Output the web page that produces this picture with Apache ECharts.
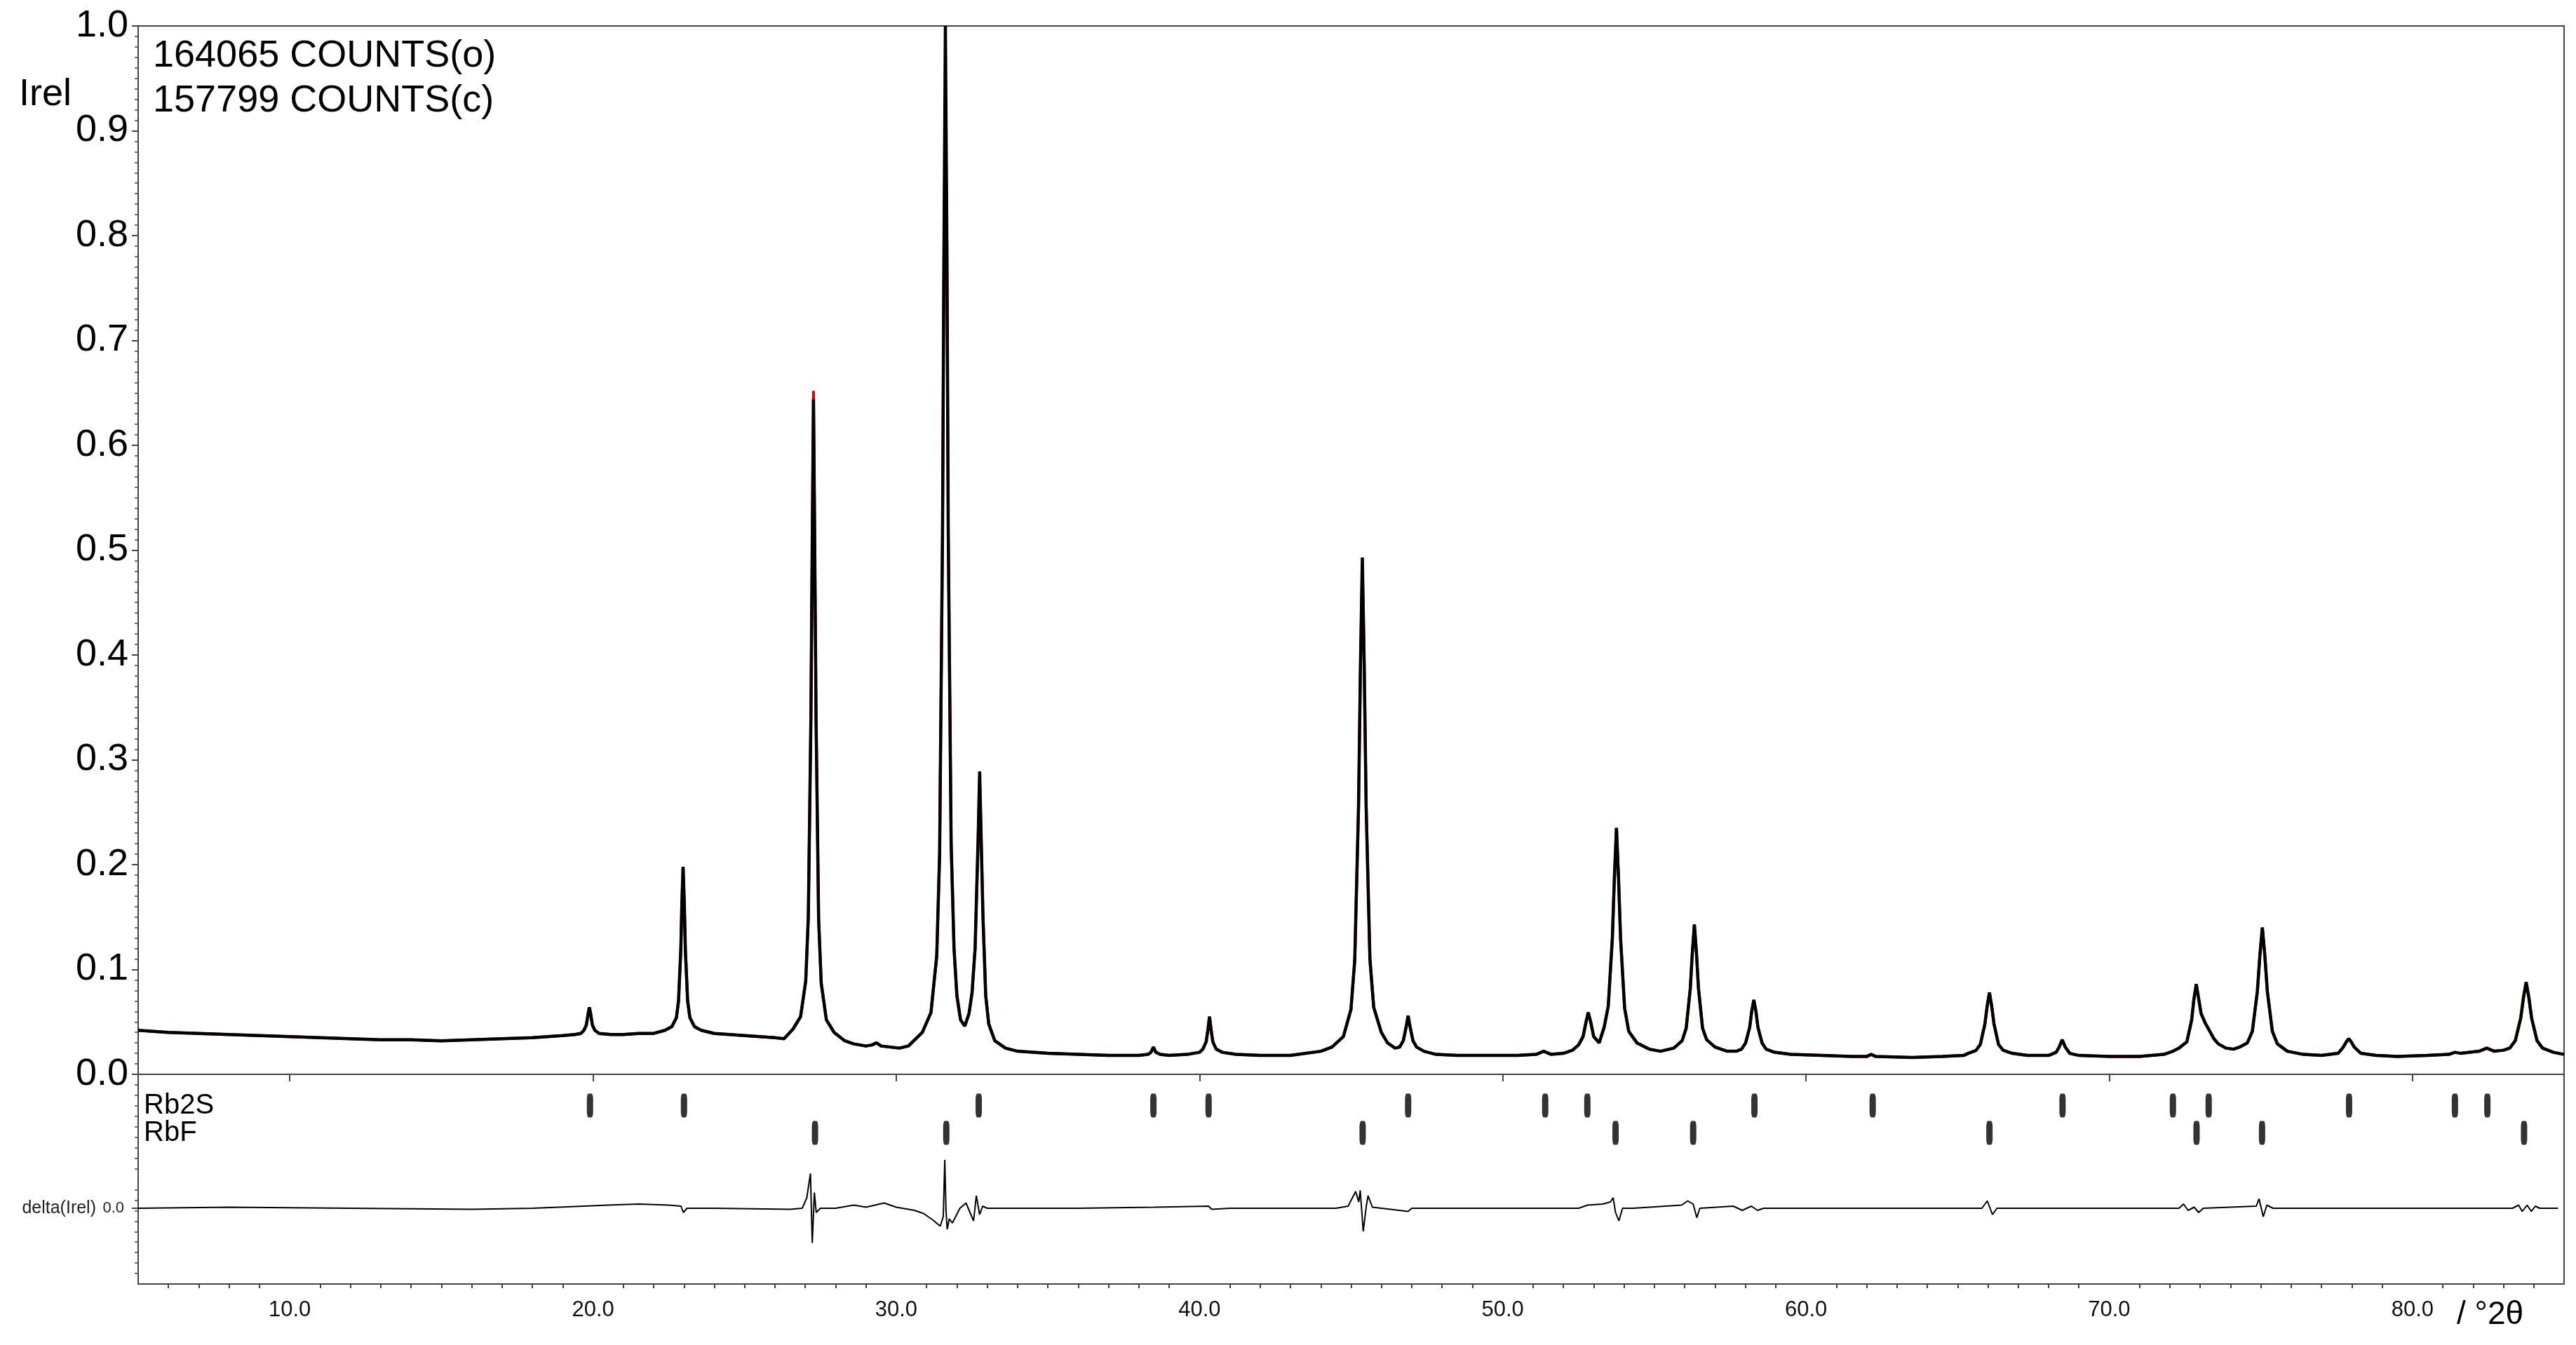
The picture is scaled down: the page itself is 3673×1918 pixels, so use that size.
<!DOCTYPE html>
<html><head><meta charset="utf-8">
<script src="https://cdn.jsdelivr.net/npm/echarts@6/dist/echarts.min.js"></script>
<style>html,body{margin:0;padding:0;background:#fff}#c{width:3673px;height:1918px}</style>
</head><body><div id="c"></div>
<script>
// ---- data ----
const twoTheta = [
5.0,5.5,6.0,7.0,8.0,9.0,10.0,11.0,12.0,13.0,14.0,15.0,16.0,17.0,18.0,19.0,19.4,
19.6,19.7,19.78,19.84,19.88,19.92,19.98,20.06,20.2,20.6,21.0,21.5,22.0,
22.37,22.6,22.75,22.82,22.895,22.93,22.97,23.01,23.045,23.12,23.195,23.345,23.57,
24.0,24.5,25.0,25.5,26.0,26.3,
26.59,26.845,27.015,27.1,27.185,27.23,27.27,27.31,27.355,27.44,27.525,27.695,27.95,
28.3,28.6,29.0,29.2,29.35,29.5,29.8,30.1,30.4,
30.86,31.145,31.335,31.43,31.525,31.5725,31.62,31.67,31.715,31.81,31.905,32.0,32.12,32.26,
32.4,32.5,32.6,32.7,32.75,32.8,32.86,32.95,33.05,33.25,33.6,34.0,34.5,35.0,36.0,37.0,38.0,
38.3,38.4,38.48,38.56,38.7,39.0,39.6,
40.0,40.11,40.22,40.28,40.33,40.38,40.44,40.55,40.75,41.2,42.0,43.0,44.0,
44.37,44.745,44.995,45.12,45.245,45.3075,45.37,45.4325,45.495,45.62,45.745,45.995,46.2,46.45,
46.6,46.72,46.82,46.88,46.94,47.04,47.16,47.4,47.8,48.5,49.5,50.5,51.1,51.35,51.6,52.0,52.3,52.5,
52.65,52.74,52.82,52.9,53.0,53.18,
53.345,53.48,53.615,53.6825,53.75,53.8175,53.885,54.02,54.155,54.425,54.83,55.2,
55.64,55.915,56.05,56.185,56.2525,56.32,56.3875,56.455,56.59,56.725,57.0,57.4,
57.7,57.875,58.01,58.145,58.21,58.28,58.35,58.415,58.55,58.685,58.96,59.5,
60.5,61.5,62.0,62.15,62.3,63.5,64.5,65.2,
65.35,65.6,65.75,65.9,65.975,66.05,66.125,66.2,66.35,66.5,66.8,67.3,
68.0,68.25,68.35,68.45,68.55,68.7,69.0,70.0,71.0,71.8,72.1,
72.3,72.56,72.72,72.79,72.87,72.95,73.03,73.18,73.3,73.45,73.6,73.85,74.1,74.3,
74.555,74.72,74.885,74.9675,75.05,75.1325,75.215,75.38,75.545,75.875,76.4,77.0,
77.55,77.72,77.82,77.9,77.98,78.08,78.3,78.8,79.5,80.5,81.2,81.4,81.6,82.2,82.45,82.7,83.0,
83.21,83.39,83.57,83.66,83.75,83.84,83.93,84.11,84.29,84.65,85.0
];
const iObs = [
.042,.041,.040,.039,.038,.037,.036,.035,.034,.033,.033,.032,.033,.034,.035,.037,.038,
.039,.042,.047,.058,.064,.058,.047,.042,.039,.038,.038,.039,.039,
.042,.0455,.054,.070,.119,.163,.198,.163,.119,.070,.054,.0455,.042,
.039,.038,.037,.036,.035,.034,
.043,.055,.089,.150,.339,.510,.644,.510,.339,.148,.087,.052,.040,
.032,.029,.027,.028,.030,.027,.026,.025,.027,
.040,.059,.113,.210,.513,.785,1.0,.79,.515,.22,.12,.075,.052,.046,
.058,.078,.12,.225,.289,.225,.15,.075,.048,.032,.025,.022,.021,.020,.019,.018,.018,
.019,.021,.026,.021,.019,.018,.019,
.021,.024,.031,.043,.055,.043,.031,.024,.021,.019,.018,.018,.022,
.026,.036,.062,.109,.256,.389,.493,.389,.256,.11,.064,.040,.030,.025,
.026,.032,.046,.056,.046,.032,.026,.022,.019,.018,.018,.018,.019,.022,.019,.020,.023,.028,
.036,.049,.059,.050,.036,.030,
.045,.065,.130,.188,.235,.188,.130,.063,.041,.030,.024,.022,
.025,.032,.044,.082,.116,.143,.116,.082,.044,.033,.026,.022,
.022,.024,.030,.045,.060,.071,.060,.045,.030,.024,.021,.019,
.018,.017,.017,.019,.017,.016,.017,.018,
.020,.0226,.0285,.048,.065,.078,.065,.048,.0285,.023,.020,.018,
.018,.021,.026,.033,.026,.020,.018,.017,.017,.019,.022,
.025,.031,.052,.071,.086,.072,.058,.048,.042,.034,.029,.025,.024,.026,
.030,.041,.079,.113,.140,.113,.079,.041,.029,.022,.019,.018,
.020,.026,.031,.034,.031,.026,.020,.018,.017,.018,.019,.021,.020,.022,.025,.022,.023,
.025,.032,.0535,.073,.088,.073,.0535,.032,.025,.021,.019
];
// calculated profile: coincides with the observed one except at these peak tops
const calcPeakTops = [[27.27, 0.652], [31.62, 0.925], [32.75, 0.283], [45.37, 0.488]];

const deltaTheta = [
5.0,8.0,12.0,16.0,18.0,19.7,20.5,21.5,22.5,22.9,22.98,23.1,24.0,26.5,26.9,27.05,27.17,27.23,27.3,27.36,27.5,
28.0,28.6,29.0,29.6,30.0,30.6,30.9,31.2,31.45,31.55,31.6,31.64,31.68,31.75,31.85,32.1,32.3,32.55,32.64,32.75,32.85,33.0,
36.0,38.5,40.3,40.4,41.0,44.5,44.9,45.15,45.25,45.3,45.4,45.5,45.56,45.7,46.0,46.88,47.0,
52.5,52.8,53.3,53.55,53.64,53.72,53.83,53.95,54.3,55.9,56.1,56.28,56.4,56.5,57.6,57.9,58.2,58.4,58.6,
65.8,65.98,66.15,66.3,72.3,72.45,72.6,72.8,72.95,73.1,74.85,74.94,75.08,75.2,75.4,
83.3,83.5,83.62,83.78,83.92,84.05,84.2,84.8
];
const deltaIrel = [
0.0,0.001,0.0,-0.001,0.0,0.002,0.003,0.004,0.003,0.002,-0.004,0.0,0.0,-0.001,0.0,0.01,0.033,-0.033,0.015,-0.004,0.0,
0.0,0.003,0.001,0.005,0.001,-0.002,-0.005,-0.011,-0.017,-0.008,0.046,-0.002,-0.02,-0.01,-0.014,0.0,0.005,-0.012,0.012,-0.006,0.002,0.0,
0.0,0.001,0.002,-0.001,0.0,0.0,0.002,0.016,0.006,0.017,-0.022,0.002,0.012,0.001,0.0,-0.003,0.0,
0.0,0.003,0.004,0.006,0.010,-0.004,-0.012,0.0,0.0,0.003,0.007,0.004,-0.009,0.0,0.002,-0.002,0.002,-0.002,0.0,
0.0,0.007,-0.006,0.0,0.0,0.004,-0.002,0.001,-0.004,0.0,0.002,0.009,-0.008,0.003,0.0,
0.0,0.003,-0.003,0.003,-0.003,0.002,0.0,0.0
];
const phases = ['Rb2S', 'RbF'];
const rb2sReflections = [19.9,23.0,32.72,38.48,40.3,46.88,51.4,52.79,58.3,62.2,68.46,72.1,73.28,77.91,81.4,82.47];
const rbfReflections = [27.32,31.65,45.38,53.72,56.28,66.05,72.88,75.04,83.68];
const xTickLabels = [10,20,30,40,50,60,70,80];
const yTickLabels = [0,0.1,0.2,0.3,0.4,0.5,0.6,0.7,0.8,0.9,1.0];
const countsLines = ['164065 COUNTS(o)', '157799 COUNTS(c)'];

// ---- chart ----
const FONT = 'Liberation Sans, Arial, sans-serif';
const obsData = twoTheta.map((x, i) => [x, iObs[i]]);
const calcData = twoTheta.map((x, i) => {
  const o = calcPeakTops.find(p => p[0] === x);
  return [x, o ? o[1] : iObs[i]];
});
const deltaData = deltaTheta.map((x, i) => [x, deltaIrel[i]]);
const xMinor = [];
for (let v = 6; v <= 84; v++) if (v % 10 !== 0) xMinor.push(v);

const chart = echarts.init(document.getElementById('c'), null, {renderer: 'canvas'});
chart.setOption({
  animation: false,
  backgroundColor: '#fff',
  grid: [
    {left: 197, right: 17, top: 37, bottom: 87, show: true, borderColor: '#444', borderWidth: 2, backgroundColor: 'transparent'},
    {left: 197, right: 17, top: 1633, bottom: 105},
    {left: 197, right: 17, top: 1557, height: 78}
  ],
  xAxis: [
    {gridIndex: 0, type: 'value', min: 5, max: 85, position: 'bottom',
      axisLine: {show: true, lineStyle: {color: '#444', width: 2}},
      axisTick: {show: true, customValues: xTickLabels, length: 10, lineStyle: {color: '#444', width: 2}},
      axisLabel: {customValues: xTickLabels, formatter: v => Number(v).toFixed(1), fontSize: 31, margin: 22, color: '#111', fontFamily: FONT},
      splitLine: {show: false}},
    {gridIndex: 0, type: 'value', min: 5, max: 85, position: 'bottom',
      axisLine: {show: false},
      axisTick: {show: true, customValues: xMinor, length: 6, lineStyle: {color: '#444', width: 2}},
      axisLabel: {show: false}, splitLine: {show: false}},
    {gridIndex: 1, type: 'value', min: 5, max: 85, show: false},
    {gridIndex: 2, type: 'value', min: 5, max: 85, show: false}
  ],
  yAxis: [
    {gridIndex: 0, type: 'value', min: -0.2, max: 1.0, interval: 0.1, position: 'left',
      axisLine: {show: true, lineStyle: {color: '#444', width: 2}},
      axisTick: {show: true, customValues: yTickLabels, length: 9, lineStyle: {color: '#444', width: 2}},
      minorTick: {show: true, splitNumber: 10, length: 5, lineStyle: {color: '#444', width: 1.5}},
      axisLabel: {customValues: yTickLabels, formatter: v => Number(v).toFixed(1), fontSize: 54, margin: 14, color: '#000', fontFamily: FONT, padding: [12, 0, 0, 0]},
      splitLine: {show: false}, minorSplitLine: {show: false}},
    {gridIndex: 1, type: 'value', min: -0.06, max: 0.06, position: 'left',
      axisLine: {show: false},
      axisTick: {show: true, customValues: [0], length: 9, lineStyle: {color: '#444', width: 2}},
      axisLabel: {customValues: [0], formatter: () => '0.0', fontSize: 22, margin: 20, color: '#222', fontFamily: FONT},
      name: 'delta(Irel)', nameLocation: 'middle', nameRotate: 0, nameGap: 60,
      nameTextStyle: {fontSize: 25, color: '#222', fontFamily: FONT},
      splitLine: {show: false}},
    {gridIndex: 2, type: 'category', data: phases, inverse: true, position: 'left',
      axisLine: {show: false}, axisTick: {show: false},
      axisLabel: {inside: true, interval: 0, fontSize: 40, margin: 8, color: '#000', fontFamily: FONT},
      splitLine: {show: false}}
  ],
  series: [
    {name: 'calc', type: 'line', xAxisIndex: 0, yAxisIndex: 0, data: calcData, showSymbol: false,
      lineStyle: {color: '#e00000', width: 4}, z: 2, silent: true},
    {name: 'obs', type: 'line', xAxisIndex: 0, yAxisIndex: 0, data: obsData, showSymbol: false,
      lineStyle: {color: '#000', width: 4.5}, z: 3, silent: true},
    {name: 'delta', type: 'line', xAxisIndex: 2, yAxisIndex: 1, data: deltaData, showSymbol: false,
      lineStyle: {color: '#000', width: 2}, z: 3, silent: true},
    {name: 'Rb2S', type: 'scatter', xAxisIndex: 3, yAxisIndex: 2,
      data: rb2sReflections.map(x => [x, 'Rb2S']), symbol: 'roundRect', symbolSize: [9, 34],
      itemStyle: {color: '#000'}, silent: true},
    {name: 'RbF', type: 'scatter', xAxisIndex: 3, yAxisIndex: 2,
      data: rbfReflections.map(x => [x, 'RbF']), symbol: 'roundRect', symbolSize: [9, 34],
      itemStyle: {color: '#000'}, silent: true}
  ],
  graphic: [
    {type: 'text', x: 27, y: 135, style: {text: 'Irel', fontSize: 54, fontFamily: FONT, fill: '#000', verticalAlign: 'middle'}},
    {type: 'text', x: 218, y: 80, style: {text: countsLines[0], fontSize: 54, fontFamily: FONT, fill: '#000', verticalAlign: 'middle'}},
    {type: 'text', x: 218, y: 144, style: {text: countsLines[1], fontSize: 54, fontFamily: FONT, fill: '#000', verticalAlign: 'middle'}},
    {type: 'text', x: 3503, y: 1875, style: {text: '/ °2θ', fontSize: 46, fontFamily: FONT, fill: '#000', verticalAlign: 'middle'}}
  ]
});
</script>
</body></html>
